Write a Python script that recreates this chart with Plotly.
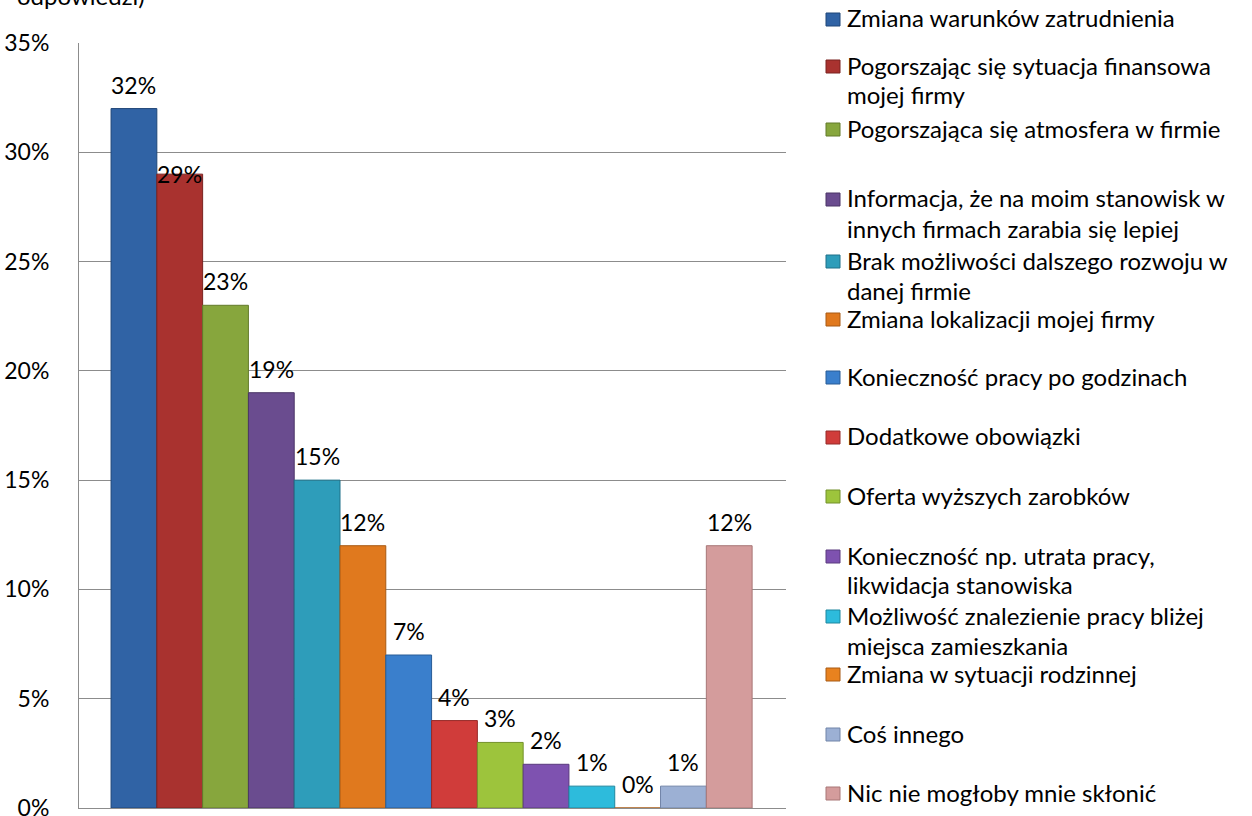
import plotly.graph_objects as go

# ---- data ----
series_names = [
    "Zmiana warunków zatrudnienia",
    "Pogorszając się sytuacja finansowa<br>mojej firmy",
    "Pogorszająca się atmosfera w firmie",
    "Informacja, że na moim stanowisk w<br>innych firmach zarabia się lepiej",
    "Brak możliwości dalszego rozwoju w<br>danej firmie",
    "Zmiana lokalizacji mojej firmy",
    "Konieczność pracy po godzinach",
    "Dodatkowe obowiązki",
    "Oferta wyższych zarobków",
    "Konieczność np. utrata pracy,<br>likwidacja stanowiska",
    "Możliwość znalezienie pracy bliżej<br>miejsca zamieszkania",
    "Zmiana w sytuacji rodzinnej",
    "Coś innego",
    "Nic nie mogłoby mnie skłonić",
]
values = [32, 29, 23, 19, 15, 12, 7, 4, 3, 2, 1, 0, 1, 12]
tick_values = [0, 5, 10, 15, 20, 25, 30, 35]
tick_labels = ["0%", "5%", "10%", "15%", "20%", "25%", "30%", "35%"]
title_fragment = "odpowiedzi)"

# ---- style ----
colors = ["#3063A5", "#A9322F", "#87A63D", "#6A4C8F", "#2E9DBA", "#E0791E",
          "#3A7FCC", "#D03C3A", "#9DC43C", "#7E52B0", "#2DBBDC", "#E8821F",
          "#9CB0D4", "#D49C9C"]
edge = ["#1F4678", "#7A2220", "#637A2B", "#4B3566", "#1F7189", "#A85A14",
        "#285C96", "#962A28", "#73912A", "#5A3A7E", "#1F879F", "#A85A14",
        "#7184A8", "#A87676"]
FONT = "Lato"
FS = 24
FS_NUM = 23
W, H = 1252, 816
L, R, T, B = 79, 786, 43, 808
label_lift = [24, 0, 24, 24, 24, 24, 24, 24, 24, 24, 24, 24, 24, 24]

def px2x(px):
    return (px - L) / (R - L)

def px2y(py):
    return (B - py) / (B - T)

fig = go.Figure()
for i, (n, v) in enumerate(zip(series_names, values)):
    fig.add_trace(go.Bar(
        x=[i], y=[v], width=1, name=n.replace("<br>", " "),
        marker=dict(color=colors[i], line=dict(color=edge[i], width=1)),
        showlegend=False,
        hovertemplate="%{y}%<extra>" + n.replace("<br>", " ") + "</extra>",
    ))
    fig.add_annotation(x=i, y=v, xref="x", yref="y", text=f"{v}%",
                       showarrow=False, yanchor="middle", yshift=label_lift[i],
                       font=dict(family=FONT, size=FS_NUM, color="black"))

# manual legend (Excel-like spacing)
first_line_y = [18, 65, 128, 198, 260, 318, 376, 436, 495, 555, 615, 673, 733, 792]
line_gap = 30
for i, n in enumerate(series_names):
    lines = n.split("<br>")
    y0 = first_line_y[i]
    fig.add_shape(type="rect", xref="paper", yref="paper",
                  x0=px2x(826), x1=px2x(840), y0=px2y(y0 + 8), y1=px2y(y0 - 5),
                  fillcolor=colors[i], line=dict(color=edge[i], width=1))
    for k, ln in enumerate(lines):
        fig.add_annotation(x=px2x(845), y=px2y(y0 + k * line_gap), xref="paper", yref="paper",
                           text=ln, showarrow=False, xanchor="left", yanchor="middle",
                           font=dict(family=FONT, size=FS, color="black"))

fig.add_annotation(x=px2x(15), y=px2y(-5), xref="paper", yref="paper",
                   text=title_fragment, showarrow=False, xanchor="left", yanchor="middle",
                   font=dict(family=FONT, size=FS, color="black"))

fig.update_layout(
    width=W, height=H,
    margin=dict(l=L, r=W - R, t=T, b=H - B, autoexpand=False),
    paper_bgcolor="white", plot_bgcolor="white",
    barmode="overlay",
    font=dict(family=FONT, size=FS_NUM, color="black"),
    xaxis=dict(range=[-1.2, 14.24], showticklabels=False, showgrid=False, zeroline=False,
               showline=True, linecolor="#8C8C8C", linewidth=1, ticks=""),
    yaxis=dict(range=[0, 35], tickvals=tick_values, ticktext=tick_labels,
               showgrid=True, gridcolor="#8C8C8C", gridwidth=1, zeroline=False,
               showline=True, linecolor="#8C8C8C", linewidth=1, ticks="",
               ticklabelstandoff=24, ticklabeloverflow="allow",
               tickfont=dict(family=FONT, size=FS_NUM, color="black")),
)
fig.write_html("out.html", config={"displayModeBar": False},
               post_script="document.body.style.margin='0';document.body.style.overflow='hidden';")
